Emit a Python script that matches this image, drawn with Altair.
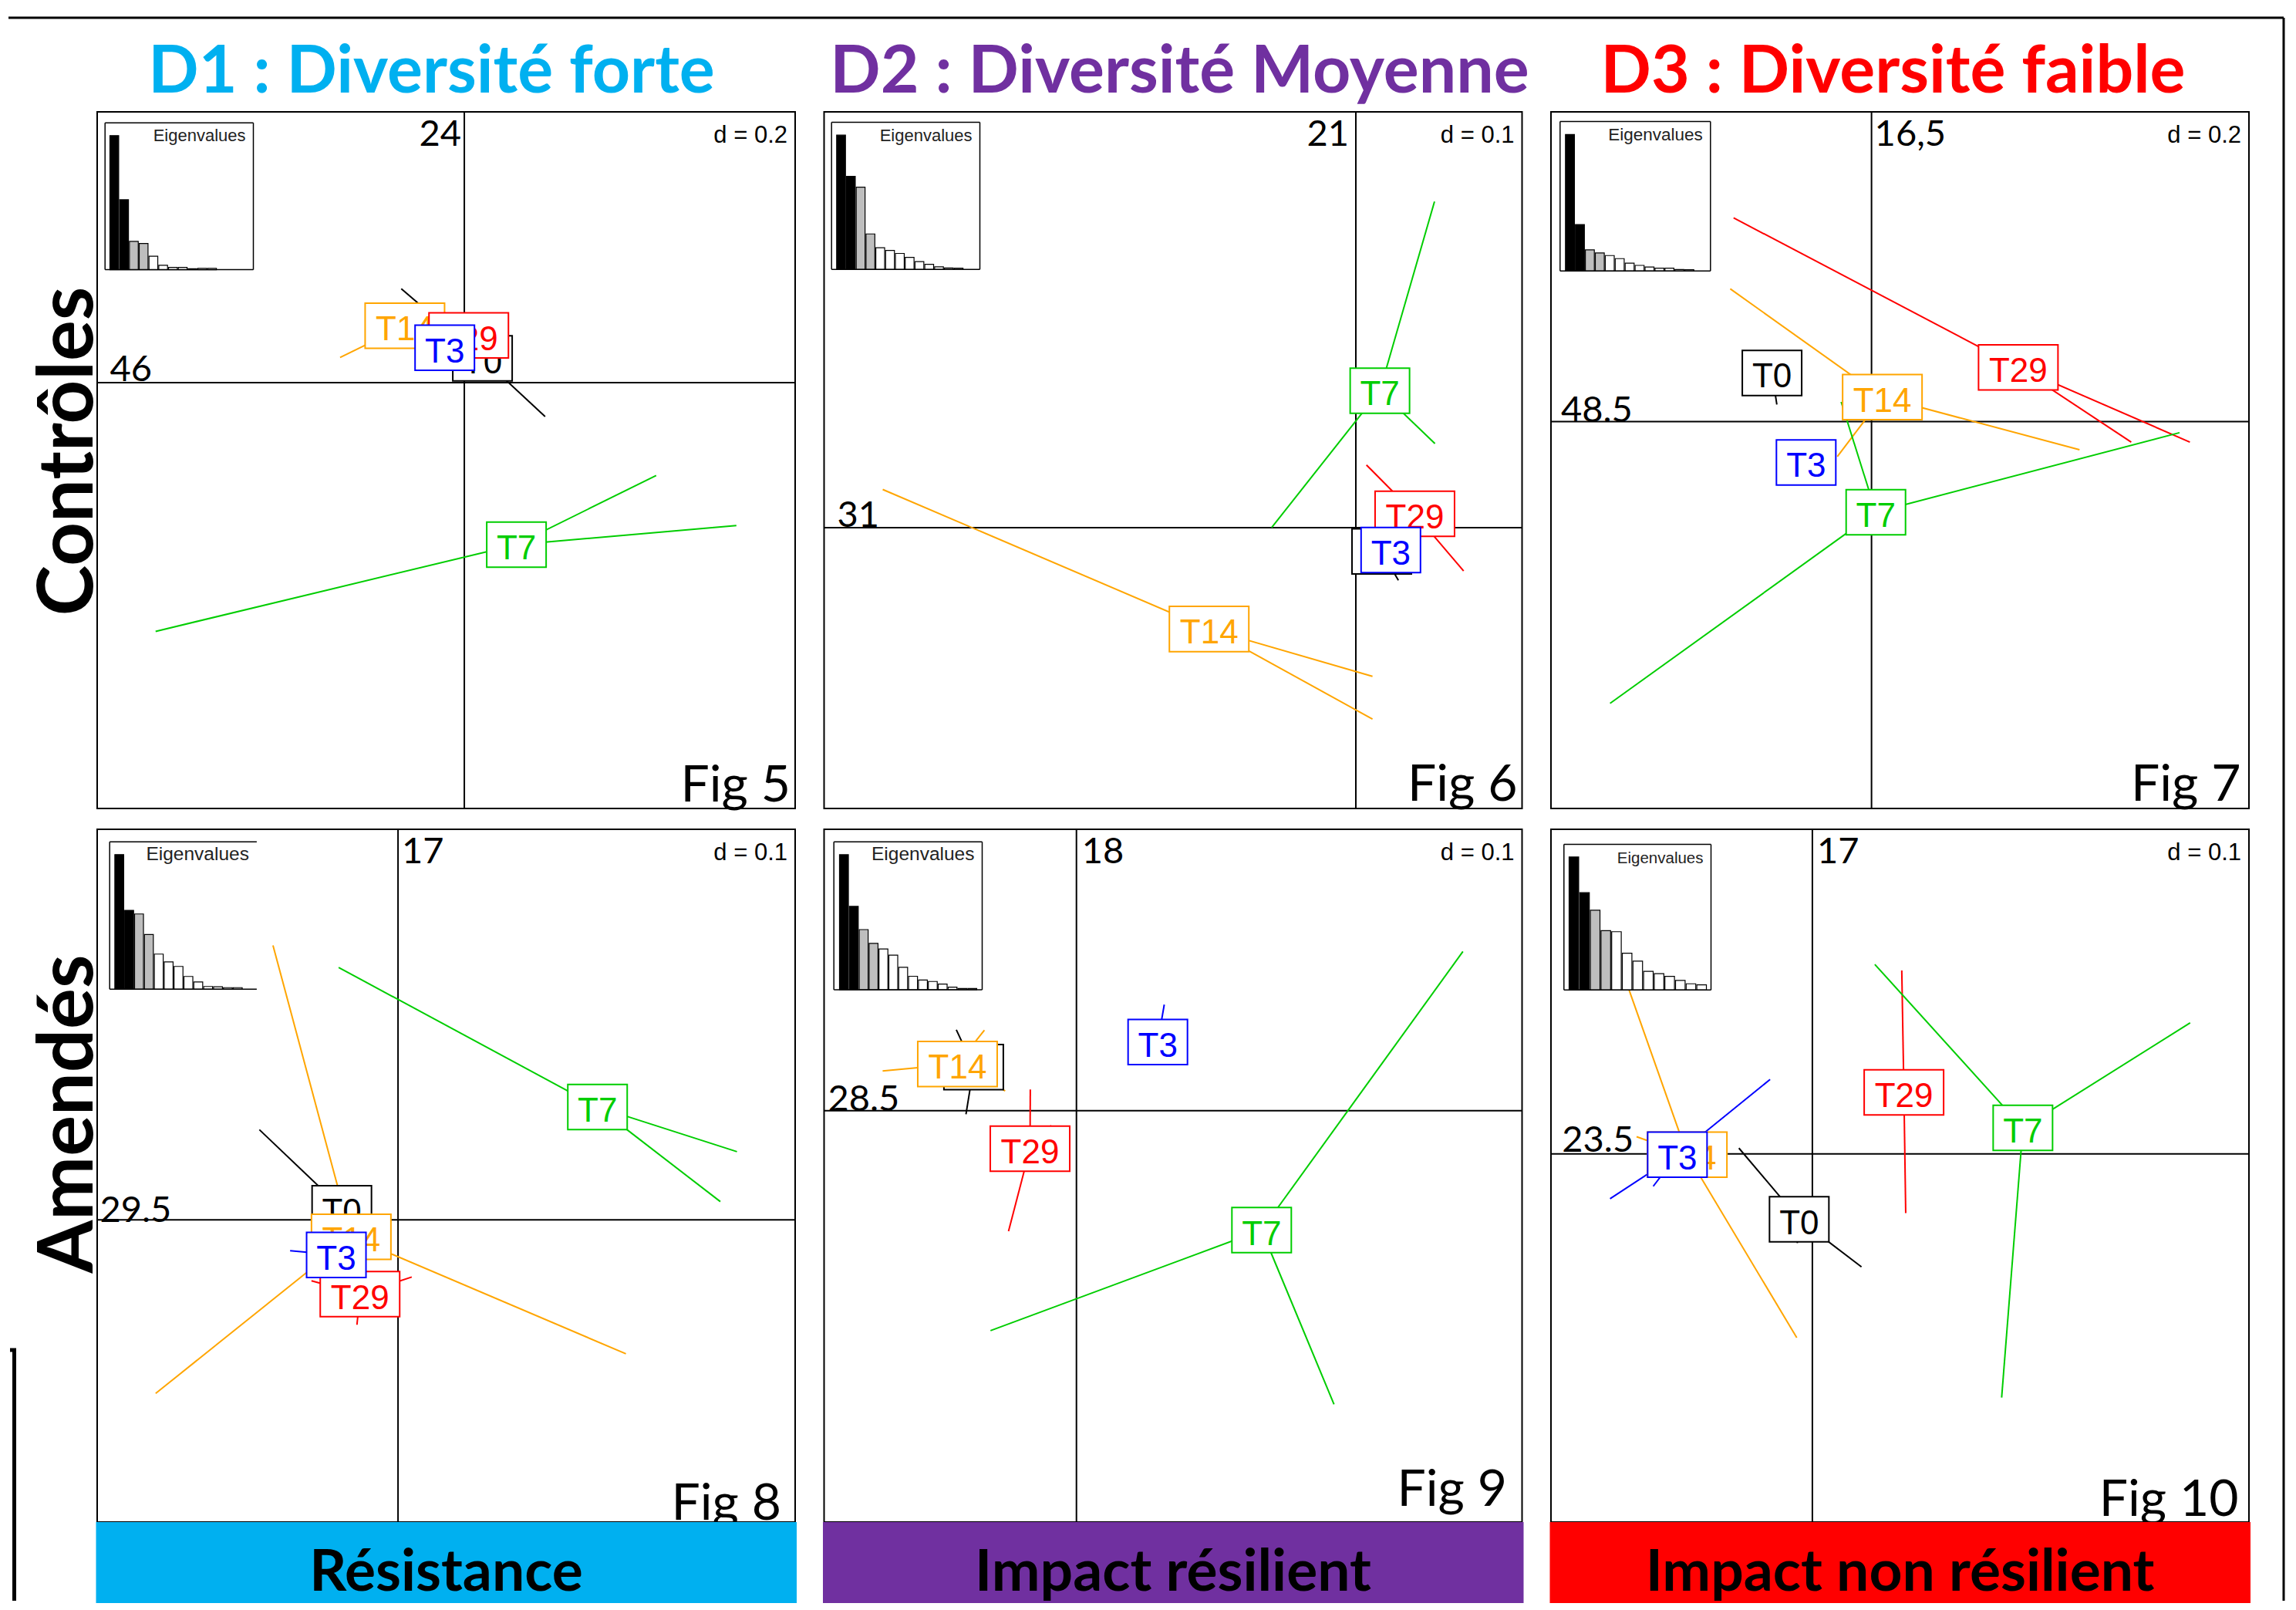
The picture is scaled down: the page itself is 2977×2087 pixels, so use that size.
import altair as alt
import pandas as pd

# ---------------- values ----------------
GROUPS = ["T0", "T14", "T29", "T3", "T7"]          # ade4 drawing order (factor levels)
GROUP_COLORS = ["#000000", "#FFA500", "#FF0000", "#0000FF", "#00CD00"]

COL_TITLES = ["D1 : Diversité forte", "D2 : Diversité Moyenne", "D3 : Diversité faible"]
COL_COLORS = ["#00B0F0", "#7030A0", "#FF0000"]
ROW_TITLES = ["Contrôles", "Amendés"]
BAR_LABELS = ["Résistance", "Impact résilient", "Impact non résilient"]
FIG_LABELS = ["Fig 5", "Fig 6", "Fig 7", "Fig 8", "Fig 9", "Fig 10"]
D_VALUES = [0.2, 0.1, 0.2, 0.1, 0.1, 0.1]
AXIS1_LABELS = ["46", "31", "48.5", "29.5", "28.5", "23.5"]   # horizontal axis
AXIS2_LABELS = ["24", "21", "16,5", "17", "18", "17"]         # vertical axis

# Fig 5 : centroids (label boxes) and replicate points, in GROUPS order
FIG5_CX = [0.0207, -0.0678, 0.0050, -0.0223, 0.0594]
FIG5_CY = [0.0276, 0.0648, 0.0538, 0.0398, -0.1846]
FIG5_PX = [[-0.0719, 0.0921, 0.0420], [-0.1416, -0.0367, -0.0251], [-0.0104, 0.0160, 0.0094],
           [-0.0324, -0.0148, -0.0200], [-0.3519, 0.2187, 0.3101]]
FIG5_PY = [[0.1069, -0.0387, 0.0146], [0.0286, 0.0884, 0.0774], [0.0621, 0.0489, 0.0505],
           [0.0445, 0.0357, 0.0392], [-0.2835, -0.1058, -0.1629]]
EIG5 = [46, 24, 9.7, 9.0, 4.6, 1.5, 0.8, 0.8, 0.35, 0.45, 0.45]

# Fig 6
FIG6_CX = [0.0239, -0.1356, 0.0545, 0.0323, 0.0222]
FIG6_CY = [-0.0219, -0.0937, 0.0128, -0.0207, 0.1265]
FIG6_PX = [[0.0393, 0.0150, 0.0174], [-0.4372, 0.0154, 0.0154], [0.0098, 0.0996, 0.0541],
           [0.0275, 0.0361, 0.0332], [0.0727, 0.0731, -0.0778]]
FIG6_PY = [[-0.0487, -0.0080, -0.0090], [0.0352, -0.1374, -0.1769], [0.0579, -0.0400, 0.0204],
           [-0.0153, -0.0245, -0.0224], [0.3012, 0.0776, 0.0]]
EIG6 = [31, 21.5, 19.0, 8.2, 5.0, 4.4, 3.7, 2.8, 1.8, 1.2, 0.6, 0.35, 0.3]

# Fig 7
FIG7_CX = [-0.1132, 0.0123, 0.1669, -0.0744, 0.0049]
FIG7_CY = [0.0554, 0.0279, 0.0617, -0.0463, -0.1029]
FIG7_PX = [[-0.1077, -0.1168, -0.1150], [-0.1607, 0.2366, -0.0389], [-0.1569, 0.2954, 0.3621],
           [-0.0817, -0.0685, -0.0729], [-0.2974, 0.3503, -0.0345]]
FIG7_PY = [[0.0196, 0.0713, 0.0757], [0.1511, -0.0319, -0.0397], [0.2318, -0.0232, -0.0232],
           [-0.0384, -0.0515, -0.0489], [-0.3203, -0.0125, 0.0225]]
EIG7 = [48.5, 16.5, 7.5, 6.4, 5.5, 4.4, 2.8, 2.0, 1.4, 1.0, 1.0, 0.55, 0.45]

# Fig 8
FIG8_CX = [-0.0430, -0.0358, -0.0291, -0.0472, 0.1525]
FIG8_CY = [0.0089, -0.0130, -0.0568, -0.0268, 0.0863]
FIG8_PX = [[-0.1060, -0.0189, -0.0141], [-0.0956, 0.1742, -0.1853], [-0.0662, 0.0105, -0.0314],
           [-0.0825, -0.0278, -0.0313], [-0.0454, 0.2591, 0.2464]]
FIG8_PY = [[0.0689, -0.0290, -0.0251], [0.2098, -0.1024, -0.1327], [-0.0466, -0.0437, -0.0802],
           [-0.0236, -0.0260, -0.0307], [0.1929, 0.0521, 0.0139]]
EIG8 = [29.5, 17.3, 16.5, 12.0, 7.7, 6.0, 5.0, 2.8, 1.6, 0.6, 0.55, 0.35, 0.35]

# Fig 9
FIG9_CX = [-0.0713, -0.0825, -0.0322, 0.0564, 0.1284]
FIG9_CY = [0.0302, 0.0323, -0.0264, 0.0476, -0.0828]
FIG9_PX = [[-0.0833, -0.0766, -0.0539], [-0.1344, -0.0638, -0.0494], [-0.0320, -0.0471, -0.0175],
           [0.0609, 0.0538, 0.0543], [0.2680, -0.0596, 0.1786]]
FIG9_PY = [[0.0560, -0.0025, 0.0365], [0.0275, 0.0558, 0.0136], [0.0147, -0.0836, -0.0103],
           [0.0735, 0.0361, 0.0334], [0.1103, -0.1525, -0.2036]]
EIG9 = [28.5, 17.6, 12.7, 9.8, 8.6, 7.3, 4.75, 2.85, 2.05, 1.75, 1.2, 0.55, 0.27, 0.27]

# Fig 10
FIG10_CX = [-0.0087, -0.0826, 0.0604, -0.0891, 0.1389]
FIG10_CY = [-0.0432, -0.0005, 0.0406, -0.0005, 0.0171]
FIG10_PX = [[-0.0485, 0.0324, -0.0100], [-0.1213, -0.0103, -0.1160], [0.0590, 0.0616, 0.0608],
            [-0.0279, -0.1335, -0.1050], [0.0412, 0.2493, 0.1249]]
FIG10_PY = [[0.0038, -0.0746, -0.0589], [0.1091, -0.1213, 0.0113], [0.1210, -0.0391, 0.0399],
            [0.0491, -0.0296, -0.0214], [0.1250, 0.0864, -0.1608]]
EIG10 = [23.5, 17.2, 14.1, 10.5, 10.3, 6.5, 5.1, 3.3, 2.9, 2.4, 1.7, 1.1, 0.9]

FIGS = [
    (FIG5_CX, FIG5_CY, FIG5_PX, FIG5_PY, EIG5),
    (FIG6_CX, FIG6_CY, FIG6_PX, FIG6_PY, EIG6),
    (FIG7_CX, FIG7_CY, FIG7_PX, FIG7_PY, EIG7),
    (FIG8_CX, FIG8_CY, FIG8_PX, FIG8_PY, EIG8),
    (FIG9_CX, FIG9_CY, FIG9_PX, FIG9_PY, EIG9),
    (FIG10_CX, FIG10_CY, FIG10_PX, FIG10_PY, EIG10),
]

# ---------------- layout / style ----------------
PANEL_W = 905
ROW_H = [903, 898]
# visible window of each panel (data units): xmin, xmax, ymin, ymax
VIEW = [
    (-0.4185, 0.3771, -0.4853, 0.3085),
    (-0.4914, 0.1536, -0.2595, 0.3841),
    (-0.3646, 0.4293, -0.4398, 0.3523),
    (-0.2300, 0.3036, -0.2310, 0.2985),
    (-0.1750, 0.3090, -0.2852, 0.1950),
    (-0.1725, 0.2881, -0.2429, 0.2141),
]
# eigenvalue inset: left, top, right, bottom, first-bar offset, bar step, font size, right border
INSET = [
    (10.2, 14.3, 202.5, 204.6, 6.3, 12.67, 22, True),
    (9.7, 13.6, 202.0, 204.3, 6.6, 12.7, 22, True),
    (11.8, 12.6, 206.8, 206.3, 7.0, 12.9, 22.5, True),
    (16.2, 16.3, 206.9, 207.3, 6.7, 12.8, 24.5, False),
    (12.7, 16.3, 205.0, 208.0, 7.3, 12.8, 24.5, True),
    (16.8, 19.6, 207.5, 208.3, 6.7, 13.8, 20.5, True),
]
AX2_STYLE = [("right", -4), ("right", -9), ("left", 4), ("left", 5), ("left", 7), ("left", 6)]
AX1_STYLE = [(16.5, -2), (17, -1), (13, 0), (3.5, 3), (5, 0), (14.3, -3)]
FIG_STYLE = [(6, 894), (6, 893), (10.5, 893), (18, 895), (19.5, 877), (13.5, 890)]
TITLE_X = [433.5, 461, 443.5]
GRID_COLOR = "#D3D3D3"
CAL = "Lato"
ARIAL = "Liberation Sans"

ONE = pd.DataFrame({"k": [0]})


def grid_axis(vals):
    return alt.Axis(values=vals, grid=True, gridColor=GRID_COLOR, gridWidth=2, gridOpacity=1,
                    labels=False, ticks=False, domain=False, title=None)


def make_panel(k):
    row, col = divmod(k, 3)
    W, H = PANEL_W, ROW_H[row]
    cx, cy, px, py, eig = FIGS[k]
    xmin, xmax, ymin, ymax = VIEW[k]
    d = D_VALUES[k]
    xs = alt.Scale(domain=[xmin, xmax], nice=False, zero=False)
    ys = alt.Scale(domain=[ymin, ymax], nice=False, zero=False)
    gx = [round(i * d, 3) for i in range(-8, 9) if xmin < i * d < xmax]
    gy = [round(i * d, 3) for i in range(-8, 9) if ymin < i * d < ymax]

    rows = []
    for g, x0, y0, xl, yl in zip(GROUPS, cx, cy, px, py):
        for x1, y1 in zip(xl, yl):
            rows.append({"group": g, "cx": x0, "cy": y0, "px": x1, "py": y1})
    sdf = pd.DataFrame(rows)

    main = []
    # origin axes
    main.append(alt.Chart(ONE).mark_rule(color="black", strokeWidth=2).encode(
        x=alt.XDatum(0, scale=xs, axis=None)))
    main.append(alt.Chart(ONE).mark_rule(color="black", strokeWidth=2).encode(
        y=alt.YDatum(0, scale=ys, axis=None)))
    # stars
    main.append(alt.Chart(sdf).mark_rule(strokeWidth=2).encode(
        x=alt.X("cx:Q", scale=xs, axis=grid_axis(gx)),
        y=alt.Y("cy:Q", scale=ys, axis=grid_axis(gy)),
        x2="px:Q", y2="py:Q",
        color=alt.Color("group:N", scale=alt.Scale(domain=GROUPS, range=GROUP_COLORS), legend=None)))
    # labelled boxes at centroids
    for g, colr, x0, y0 in zip(GROUPS, GROUP_COLORS, cx, cy):
        gdf = pd.DataFrame({"label": [g], "cx": [x0], "cy": [y0]})
        bw = 103 if len(g) == 3 else 77
        hh = 58.5 / bw
        path = f"M-1,-{hh:.4f}H1V{hh:.4f}H-1Z"
        main.append(alt.Chart(gdf).mark_point(
            shape=path, size=bw * bw, filled=True, fill="white", stroke=colr, strokeWidth=2,
            opacity=1, fillOpacity=1, strokeOpacity=1).encode(
            x=alt.X("cx:Q", scale=xs, axis=None), y=alt.Y("cy:Q", scale=ys, axis=None)))
        main.append(alt.Chart(gdf).mark_text(
            font=ARIAL, fontSize=44, color=colr, align="center", baseline="alphabetic", dy=19).encode(
            x=alt.X("cx:Q", scale=xs, axis=None), y=alt.Y("cy:Q", scale=ys, axis=None),
            text="label:N"))
    # axis inertia labels
    al, dx = AX2_STYLE[k]
    main.append(alt.Chart(ONE).mark_text(
        text=AXIS2_LABELS[k], font=CAL, fontSize=47, color="black", align=al,
        baseline="alphabetic", dx=dx).encode(
        x=alt.XDatum(0, scale=xs, axis=None), y=alt.value(44)))
    lx, dy = AX1_STYLE[k]
    main.append(alt.Chart(ONE).mark_text(
        text=AXIS1_LABELS[k], font=CAL, fontSize=47, color="black", align="left",
        baseline="alphabetic", dy=dy).encode(
        x=alt.value(lx), y=alt.YDatum(0, scale=ys, axis=None)))
    main_layer = alt.layer(*main)

    # eigenvalue inset (own scales)
    L, T, R, B, off, step, fs, rb = INSET[k]
    n = len(eig)
    edf = pd.DataFrame({
        "i": list(range(n)),
        "i2": [i + 0.9 for i in range(n)],
        "z": [0.0] * n,
        "v": eig,
        "fill": ["black" if i < 2 else ("#BEBEBE" if i < 4 else "white") for i in range(n)],
    })
    ix = alt.Scale(domain=[-off / step, (R - L - off) / step], range=[L, R], nice=False, zero=False)
    iy = alt.Scale(domain=[0, max(eig) * 1.095], range=[B, T], nice=False, zero=False)
    ins = [
        alt.Chart(ONE).mark_rect(fill="white").encode(
            x=alt.value(L), x2=alt.value(R), y=alt.value(T), y2=alt.value(B)),
        alt.Chart(edf).mark_rect(stroke="black", strokeWidth=1.2).encode(
            x=alt.X("i:Q", scale=ix, axis=None), x2="i2:Q",
            y=alt.Y("z:Q", scale=iy, axis=None), y2="v:Q",
            fill=alt.Fill("fill:N", scale=None)),
        alt.Chart(ONE).mark_rule(color="black", strokeWidth=1.5).encode(
            x=alt.value(L), x2=alt.value(R), y=alt.value(T)),
        alt.Chart(ONE).mark_rule(color="black", strokeWidth=1.5).encode(
            x=alt.value(L), x2=alt.value(R), y=alt.value(B)),
        alt.Chart(ONE).mark_rule(color="black", strokeWidth=1.5).encode(
            x=alt.value(L), y=alt.value(T), y2=alt.value(B)),
        alt.Chart(ONE).mark_text(text="Eigenvalues", font=ARIAL, fontSize=fs, color="#222222",
                                 align="right", baseline="alphabetic").encode(
            x=alt.value(R - 10), y=alt.value(T + 24)),
    ]
    if rb:
        ins.append(alt.Chart(ONE).mark_rule(color="black", strokeWidth=1.5).encode(
            x=alt.value(R), y=alt.value(T), y2=alt.value(B)))
    inset_layer = alt.layer(*ins)

    deco = [
        # d = ... legend with white background
        alt.Chart(ONE).mark_rect(fill="white").encode(
            x=alt.value(W - 118), x2=alt.value(W - 2), y=alt.value(2), y2=alt.value(47)),
        alt.Chart(ONE).mark_text(text=f"d = {D_VALUES[k]}", font=ARIAL, fontSize=31, color="black",
                                 align="right", baseline="alphabetic").encode(
            x=alt.value(W - 10), y=alt.value(40)),
        # figure number
        alt.Chart(ONE).mark_text(text=FIG_LABELS[k], font=CAL, fontSize=66, color="black",
                                 align="right", baseline="alphabetic").encode(
            x=alt.value(W - FIG_STYLE[k][0]), y=alt.value(FIG_STYLE[k][1])),
    ]
    if row == 0:
        deco.append(alt.Chart(ONE).mark_text(
            text=COL_TITLES[col], font=CAL, fontWeight="bold", fontSize=86, color=COL_COLORS[col],
            align="center", baseline="alphabetic").encode(
            x=alt.value(TITLE_X[col]), y=alt.value(-25)))
    if row == 1:
        deco.append(alt.Chart(ONE).mark_rect(fill=COL_COLORS[col]).encode(
            x=alt.value(-1.5), x2=alt.value(W + 2), y=alt.value(H), y2=alt.value(H + 105)))
        deco.append(alt.Chart(ONE).mark_text(
            text=BAR_LABELS[col], font=CAL, fontWeight="bold", fontSize=75, color="black",
            align="center", baseline="alphabetic").encode(
            x=alt.value(W / 2), y=alt.value(H + 89)))
    if col == 0:
        deco.append(alt.Chart(ONE).mark_text(
            text=ROW_TITLES[row], font=CAL, fontWeight="bold", fontSize=99, color="black",
            angle=270, align="center", baseline="alphabetic").encode(
            x=alt.value(-6), y=alt.value(440 if row == 0 else 369)))
    if k == 0:
        # slide frame lines
        deco.append(alt.Chart(ONE).mark_rule(color="black", strokeWidth=3).encode(
            x=alt.value(-115), x2=alt.value(2835), y=alt.value(-122)))
        deco.append(alt.Chart(ONE).mark_rule(color="black", strokeWidth=3).encode(
            x=alt.value(2835), y=alt.value(-122), y2=alt.value(1930)))
        deco.append(alt.Chart(ONE).mark_rule(color="black", strokeWidth=5).encode(
            x=alt.value(-107.5), y=alt.value(1603), y2=alt.value(1930)))
        deco.append(alt.Chart(ONE).mark_rule(color="black", strokeWidth=5).encode(
            x=alt.value(-113), x2=alt.value(-105), y=alt.value(1605)))

    return alt.layer(main_layer, inset_layer, *deco).resolve_scale(
        x="independent", y="independent").properties(width=W, height=H)


panels = [make_panel(k) for k in range(6)]

chart = alt.concat(
    *panels, columns=3, spacing={"row": 27, "column": 37.5}, bounds="flush"
).properties(
    padding={"left": 0, "top": 12, "right": 0, "bottom": 0}
).configure_view(stroke="black", strokeWidth=2)

chart.save("out.html", embed_options={"renderer": "svg", "actions": False})
